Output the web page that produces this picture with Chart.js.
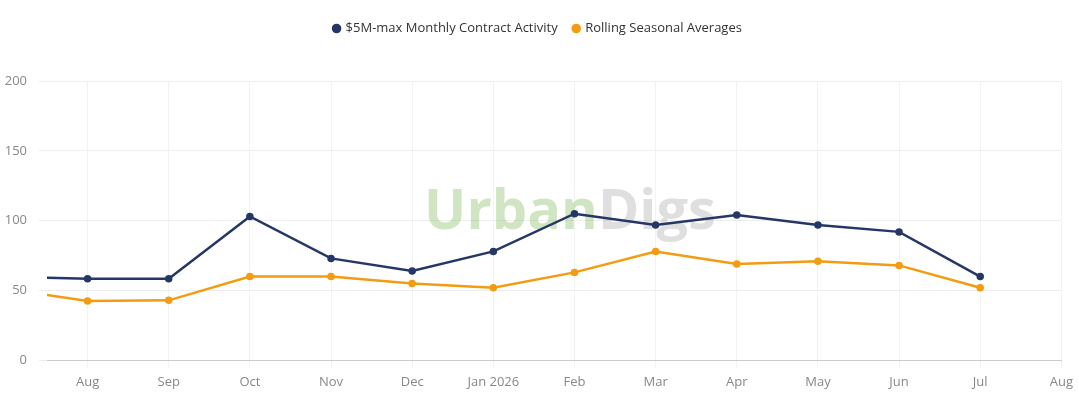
<!DOCTYPE html>
<html><head><meta charset="utf-8">
<script src="https://cdn.jsdelivr.net/npm/chart.js@4"></script>
<style>body{margin:0;background:#fff}#wrap{width:1079px;height:400px}</style>
</head><body><div id="wrap"><canvas id="c"></canvas></div>
<script>
const monthLabels = ['Jul','Aug','Sep','Oct','Nov','Dec','Jan 2026','Feb','Mar','Apr','May','Jun','Jul','Aug'];
const monthIndex = [-1,0,1,2,3,4,5,6,7,8,9,10,11];
const activity = [60,58.5,58.5,103,73,64,78,105,97,104,97,92,60];
const seasonal = [51,42.5,43,60,60,55,52,63,78,69,71,68,52];

const watermark = {
  id: 'wm',
  beforeDatasetsDraw(chart) {
    const {ctx} = chart;
    ctx.save();
    ctx.font = 'bold 56px "Open Sans"';
    ctx.textBaseline = 'middle';
    const a = 'Urban', b = 'Digs';
    const w = ctx.measureText(a + b).width;
    const x = 570 - w / 2, y = 213;
    ctx.fillStyle = 'rgba(120,180,80,0.35)';
    ctx.fillText(a, x, y);
    ctx.fillStyle = 'rgba(150,150,150,0.3)';
    ctx.fillText(b, x + ctx.measureText(a).width, y);
    ctx.restore();
  }
};

const pts = arr => arr.map((v, i) => ({x: monthIndex[i], y: v}));
new Chart(document.getElementById('c'), {
  type: 'line',
  data: {datasets: [
    {label: '$5M-max Monthly Contract Activity', data: pts(activity), borderColor: '#253766', backgroundColor: '#253766', borderWidth: 2.5, pointRadius: 2.5, tension: 0},
    {label: 'Rolling Seasonal Averages', data: pts(seasonal), borderColor: '#f39c12', backgroundColor: '#f39c12', borderWidth: 2.5, pointRadius: 2.5, tension: 0}
  ]},
  options: {
    animation: false, responsive: true, maintainAspectRatio: false,
    layout: {padding: {top: 6, right: 3, left: 0, bottom: 4}},
    plugins: {
      legend: {labels: {usePointStyle: true, pointStyle: 'circle', boxWidth: 5, boxHeight: 5, color: '#333', font: {family: '"Open Sans"', size: 13}, padding: 16}},
      tooltip: {enabled: false}
    },
    scales: {
      x: {type: 'linear', min: -0.5, max: 12, grid: {color: '#f3f3f3'}, border: {color: '#ccc'},
        afterBuildTicks: s => { s.ticks = monthLabels.slice(1).map((_, i) => ({value: i})); },
        ticks: {color: '#888', font: {family: '"Open Sans"', size: 13}, padding: 6,
          callback: v => monthLabels[v + 1]}},
      y: {min: 0, max: 200, grid: {color: '#eeeeee'}, border: {display: false},
        afterFit: s => { s.width = 47; },
        ticks: {stepSize: 50, color: '#888', font: {family: '"Open Sans"', size: 13}, padding: 12}}
    }
  },
  plugins: [watermark, {id: 'legendGap', beforeInit(chart) {
    const orig = chart.legend.fit;
    chart.legend.fit = function () { orig.bind(chart.legend)(); this.height += 36; };
  }}]
});
</script></body></html>
